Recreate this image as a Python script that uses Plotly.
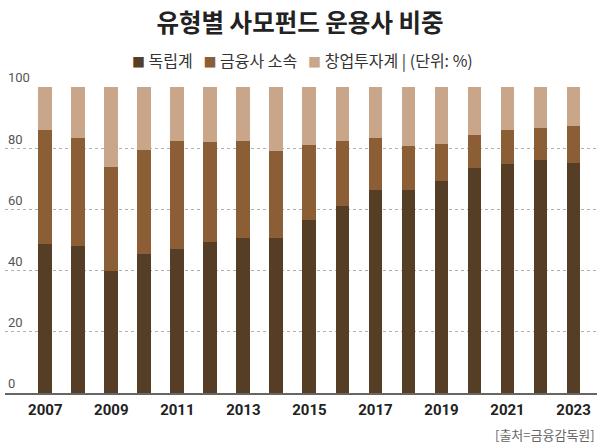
import plotly.graph_objects as go

years = list(range(2007, 2024))
independent = [48.7, 48.2, 40.0, 45.5, 47.2, 49.2, 50.7, 50.7, 56.7, 61.2, 66.2, 66.5, 69.4, 73.5, 75.0, 76.0, 75.3]
financial = [37.2, 35.0, 33.7, 33.8, 35.3, 32.7, 31.5, 28.3, 24.2, 21.0, 17.0, 14.2, 12.1, 10.9, 10.9, 10.6, 11.9]
venture = [round(100 - a - b, 1) for a, b in zip(independent, financial)]

series_names = ["독립계", "금융사 소속", "창업투자계"]
unit_note = " | (단위: %)"
colors = ["#563e26", "#8c5e36", "#c9a689"]

y_tickvals = [0, 20, 40, 60, 80, 100]
y_ticktext = ["0", "20", "40", "60", "80", "100"]
x_tickvals = [2007, 2009, 2011, 2013, 2015, 2017, 2019, 2021, 2023]

fig = go.Figure()
for name, vals, col in zip(series_names, [independent, financial, venture], colors):
    fig.add_trace(go.Bar(x=years, y=vals, name=name, marker=dict(color=col, line=dict(width=0))))

fig.update_layout(
    width=600, height=446,
    barmode="stack", bargap=0.58,
    plot_bgcolor="white", paper_bgcolor="white",
    margin=dict(l=5, r=3, t=87, b=53),
    title=dict(text="<b>유형별 사모펀드 운용사 비중</b>", x=0.5, xanchor="center", y=0.948, yanchor="middle",
               font=dict(family="Noto Sans CJK KR", size=24.5, color="#222")),
    font=dict(family="Noto Sans CJK KR"),
    showlegend=False,
)
fig.update_yaxes(range=[0, 100], tickvals=y_tickvals, ticktext=y_ticktext,
                 ticklabelposition="inside top", ticklabeloverflow="allow",
                 showgrid=True, gridcolor="#b0b0b0", griddash="dot", gridwidth=1,
                 zeroline=False, showline=False,
                 tickfont=dict(family="Roboto", size=13, color="#555"))
fig.update_xaxes(range=[2005.78, 2023.71], tickvals=x_tickvals, showgrid=False,
                 showline=True, linecolor="#666", linewidth=1.5,
                 ticks="", ticklabelstandoff=2,
                 tickfont=dict(family="Roboto", size=15, color="#222", weight="bold"))

# legend row built from the series names and colours
parts = []
for i, (name, col) in enumerate(zip(series_names, colors)):
    txt = f"<span style='color:{col};font-size:13px'>■</span>\u00a0{name}"
    if i == len(series_names) - 1:
        txt += unit_note
    parts.append(txt)
legend_text = "\u00a0\u00a0\u00a0".join(parts)
fig.add_annotation(text=legend_text, xref="paper", yref="paper", x=0.503, y=1 + (87 - 60) / 306,
                   xanchor="center", yanchor="middle", showarrow=False,
                   font=dict(family="Noto Sans CJK KR", size=16, color="#333"))

fig.add_annotation(text="[출처=금융감독원]", xref="paper", yref="paper", x=1.0, y=-0.135,
                   xanchor="right", yanchor="middle", showarrow=False,
                   font=dict(family="Noto Sans CJK KR", size=13, color="#666"))

fig.write_html("out.html")
